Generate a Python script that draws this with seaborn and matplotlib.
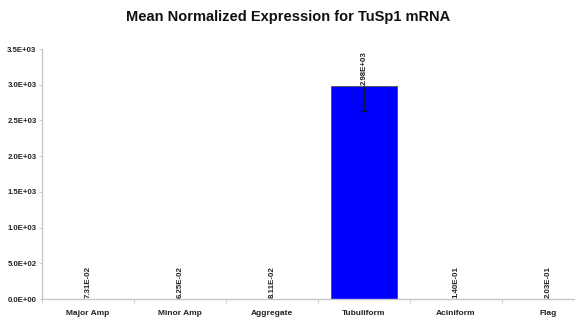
import matplotlib
matplotlib.use("Agg")
import matplotlib.pyplot as plt
import seaborn as sns
import pandas as pd
import numpy as np

categories = ["Major Amp", "Minor Amp", "Aggregate", "Tubuliform", "Aciniform", "Flag"]
values = [0.0731, 0.0625, 0.0811, 2980.0, 0.140, 0.203]
err_low = [0.0, 0.0, 0.0, 350.0, 0.0, 0.0]
yticks = [0, 500, 1000, 1500, 2000, 2500, 3000, 3500]
title = "Mean Normalized Expression for TuSp1 mRNA"

sns.set_style("white")
plt.rcParams["font.family"] = ["Liberation Sans", "DejaVu Sans"]

df = pd.DataFrame({"cat": categories, "val": values})

fig = plt.figure(figsize=(5.75, 3.23), dpi=100)
ax = fig.add_axes([42/575, 1-299/323, 552/575, 250/323])

sns.barplot(data=df, x="cat", y="val", color="#0000FF", width=0.71,
            edgecolor="#505050", linewidth=0.6, saturation=1, ax=ax, errorbar=None)

pos = np.arange(len(categories))
for i, (v, e) in enumerate(zip(values, err_low)):
    if e > 0:
        ax.vlines(i, v - e, v, colors="#101030", linewidth=0.9, zorder=3)
        ax.plot([i], [v - e], marker="_", markersize=4, markeredgewidth=0.9,
                color="#101030", zorder=3)

for i, v in enumerate(values):
    ax.text(i, v + 15, "{:.2E}".format(v), rotation=90, ha="center", va="bottom",
            fontsize=5.7, fontweight="bold", color="#222222")

ax.set_xlim(-0.5, len(categories) - 0.5)
ax.set_ylim(0, 3500)
ax.set_yticks(yticks)
ax.set_yticklabels(["{:.1E}".format(t) for t in yticks], fontsize=5.6, fontweight="bold", color="#222222")
ax.set_xticks(pos)
ax.set_xticklabels(categories, fontsize=6, fontweight="bold", color="#222222")
ax.set_xticks(np.arange(len(categories) + 1) - 0.5, minor=True)
ax.tick_params(axis="x", which="major", length=0, pad=8)
ax.tick_params(axis="x", which="minor", length=3, width=0.6, color="#c8c8c8", direction="out", bottom=True)
ax.tick_params(axis="y", which="major", length=2, width=0.6, color="#c8c8c8", direction="out", left=True, pad=2)
ax.set_xlabel("")
ax.set_ylabel("")
for s in ["top", "right"]:
    ax.spines[s].set_visible(False)
for s in ["left", "bottom"]:
    ax.spines[s].set_color("#c8c8c8")
    ax.spines[s].set_linewidth(1.0)

fig.text(288/575, 1-17/323, title, ha="center", va="center", fontsize=10.5, fontweight="bold", color="#111111")

fig.savefig("out.png", dpi=100)
